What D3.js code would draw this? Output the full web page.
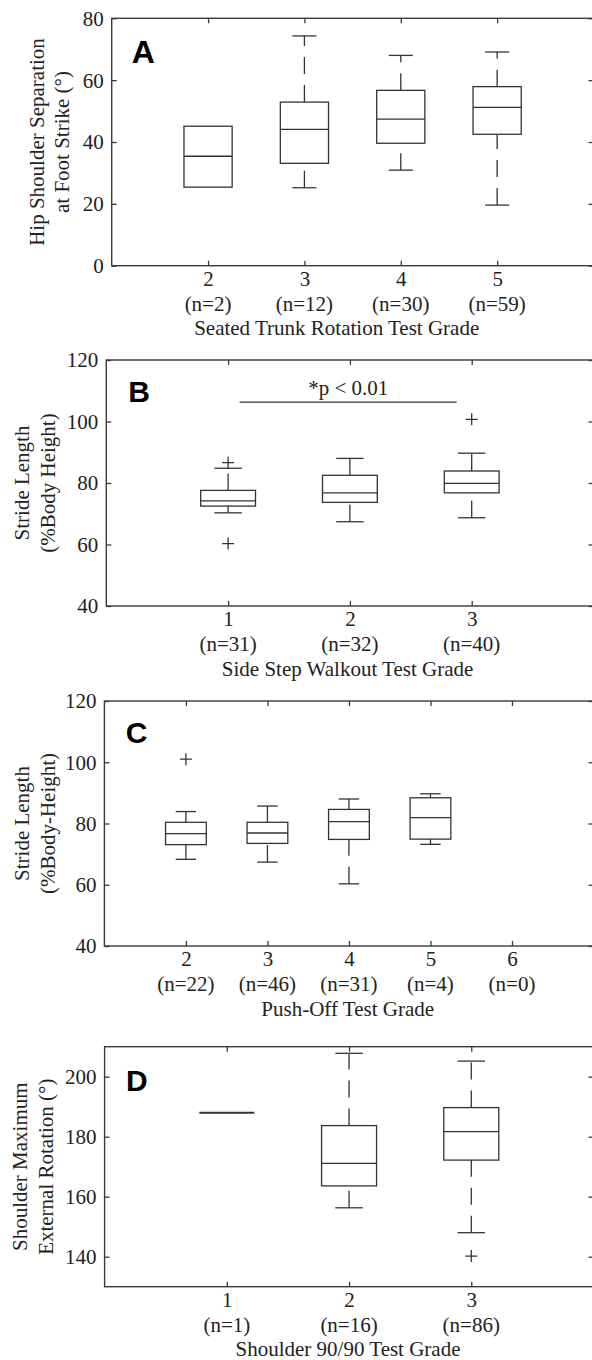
<!DOCTYPE html>
<html>
<head>
<meta charset="utf-8">
<script src="https://cdn.jsdelivr.net/npm/d3@7"></script>
<style>
  body { margin: 0; background: #fff; }
  svg { display: block; }
  .tick text { font-family: "Liberation Serif", "Times New Roman", serif; font-size: 21px; fill: #222; }
  .tick line { stroke: #3a3a3a; stroke-width: 1.3; }
</style>
</head>
<body>
<svg id="fig" width="592" height="1360"></svg>
<script>
// Panel A - Seated trunk rotation
const gradesA = [2, 3, 4, 5];
const countsA = [2, 12, 30, 59];
// [lower whisker, q1, median, q3, upper whisker]
const statsA = [
    [25.4, 25.4, 35.4, 45.1, 45.1],
    [25.2, 33.1, 44.1, 52.9, 74.3],
    [30.9, 39.6, 47.4, 56.7, 68.0],
    [19.6, 42.5, 51.2, 57.9, 69.1]
];
const outliersA = [[], [], [], []];
const yTicksA = [0, 20, 40, 60, 80];

// Panel B - Side step walkout
const gradesB = [1, 2, 3];
const countsB = [31, 32, 40];
const statsB = [
    [70.3, 72.5, 74.2, 77.6, 84.8],
    [67.4, 73.7, 76.8, 82.5, 88.0],
    [68.7, 76.8, 79.9, 83.9, 89.7]
];
const outliersB = [[86.6, 60.3], [], [100.7]];
const yTicksB = [40, 60, 80, 100, 120];
const sigB = {from: 1.095, to: 2.877, level: 106.3, label: "*p < 0.01"};

// Panel C - Push-off
const gradesC = [2, 3, 4, 5, 6];
const countsC = [22, 46, 31, 4, 0];
const statsC = [
    [68.3, 73.1, 76.7, 80.4, 83.9],
    [67.4, 73.5, 76.9, 80.4, 85.7],
    [60.3, 74.8, 80.6, 84.6, 88.0],
    [73.2, 74.9, 81.9, 88.4, 89.7],
    null
];
const outliersC = [[101.0], [], [], [], []];
const yTicksC = [40, 60, 80, 100, 120];

// Panel D - Shoulder 90/90
const gradesD = [1, 2, 3];
const countsD = [1, 16, 86];
const statsD = [
    [188.0, 188.0, 188.0, 188.0, 188.0],
    [156.3, 163.6, 171.1, 183.7, 207.8],
    [148.0, 172.2, 181.7, 189.7, 205.2]
];
const outliersD = [[], [], [140.2]];
const yTicksD = [140, 160, 180, 200];

// layout of the four panels
const RIGHT = 593.5;
const panels = [
    {letter: "A", grades: gradesA, counts: countsA, stats: statsA, outliers: outliersA,
     xDomain: [1, 6], yDomain: [0, 80], yTicks: yTicksA, left: 111.7, top: 18.3, bottom: 265.7,
     boxW: 0.5, ylabel: ["Hip Shoulder Separation", "at Foot Strike (\u00b0)"], ylabelX: [44, 69],
     xlabel: "Seated Trunk Rotation Test Grade", xlabelX: 336.7, letterXY: [131.7, 63.3], letterSize: 32},
    {letter: "B", grades: gradesB, counts: countsB, stats: statsB, outliers: outliersB, sig: sigB,
     xDomain: [0, 4], yDomain: [40, 120], yTicks: yTicksB, left: 106.3, top: 360, bottom: 606,
     boxW: 0.45, ylabel: ["Stride Length", "(%Body Height)"], ylabelX: [29, 55],
     xlabel: "Side Step Walkout Test Grade", xlabelX: 347.6, letterXY: [128.3, 401.7], letterSize: 30},
    {letter: "C", grades: gradesC, counts: countsC, stats: statsC, outliers: outliersC,
     xDomain: [1, 7], yDomain: [40, 120], yTicks: yTicksC, left: 104.4, top: 701, bottom: 946,
     boxW: 0.5, ylabel: ["Stride Length", "(%Body-Height)"], ylabelX: [29, 55],
     xlabel: "Push-Off Test Grade", xlabelX: 347.7, letterXY: [125.7, 743.3], letterSize: 30},
    {letter: "D", grades: gradesD, counts: countsD, stats: statsD, outliers: outliersD,
     xDomain: [0, 4], yDomain: [130, 210], yTicks: yTicksD, left: 104.6, top: 1046.7, bottom: 1286.7,
     boxW: 0.45, ylabel: ["Shoulder Maximum", "External Rotation (\u00b0)"], ylabelX: [27, 53],
     xlabel: "Shoulder 90/90 Test Grade", xlabelX: 348, letterXY: [126, 1090.7], letterSize: 30}
];

const svg = d3.select("#fig");
const SERIF = '"Liberation Serif", "Times New Roman", serif';
const LINE = "#333";

panels.forEach(drawPanel);

function drawPanel(p) {
    let x = d3.scaleLinear().domain(p.xDomain).range([p.left, RIGHT]);
    let y = d3.scaleLinear().domain(p.yDomain).range([p.bottom, p.top]);
    let g = svg.append("g");

    // axes (ticks pointing inwards, like matlab)
    g.append("g").attr("transform", `translate(${p.left},0)`)
        .call(d3.axisLeft(y).tickValues(p.yTicks).tickSize(-5).tickSizeOuter(0).tickPadding(8))
        .call(a => a.select(".domain").remove())
        .selectAll("text").attr("dy", "0.33em");
    g.append("g").attr("transform", `translate(${RIGHT},0)`)
        .call(d3.axisRight(y).tickValues(p.yTicks).tickSize(-5).tickSizeOuter(0).tickFormat(""))
        .call(a => a.select(".domain").remove());
    g.append("g").attr("transform", `translate(0,${p.bottom})`)
        .call(d3.axisBottom(x).tickValues(p.grades).tickSize(-5).tickSizeOuter(0).tickPadding(5).tickFormat(d3.format("d")))
        .call(a => a.select(".domain").remove());
    g.append("g").attr("transform", `translate(0,${p.top})`)
        .call(d3.axisTop(x).tickValues(p.grades).tickSize(-5).tickSizeOuter(0).tickFormat(""))
        .call(a => a.select(".domain").remove());

    // frame
    g.append("rect")
        .attr("x", p.left).attr("y", p.top)
        .attr("width", RIGHT - p.left).attr("height", p.bottom - p.top)
        .attr("fill", "none").attr("stroke", "#3a3a3a").attr("stroke-width", 1.4);

    // group sizes under the grade
    g.selectAll(".count").data(p.counts).enter().append("text")
        .attr("x", (d, i) => x(p.grades[i]))
        .attr("y", p.bottom + 45)
        .attr("text-anchor", "middle")
        .style("font-family", SERIF).style("font-size", "21px").style("fill", "#222")
        .text(d => `(n=${d})`);

    // x label
    g.append("text")
        .attr("x", p.xlabelX).attr("y", p.bottom + 69.5)
        .attr("text-anchor", "middle")
        .style("font-family", SERIF).style("font-size", "21px").style("fill", "#222")
        .text(p.xlabel);

    // y label (two lines)
    let cy = (p.top + p.bottom) / 2;
    p.ylabel.forEach((t, i) => {
        g.append("text")
            .attr("transform", `translate(${p.ylabelX[i]},${cy}) rotate(-90)`)
            .attr("text-anchor", "middle")
            .style("font-family", SERIF).style("font-size", "21px").style("fill", "#222")
            .text(t);
    });

    // boxes
    let half = (x(p.xDomain[0] + p.boxW) - x(p.xDomain[0])) / 2;
    let boxes = g.selectAll(".box")
        .data(p.stats.map((s, i) => ({s: s, grade: p.grades[i], out: p.outliers[i]})).filter(d => d.s))
        .enter().append("g").attr("class", "box");

    boxes.each(function(d) {
        let b = d3.select(this);
        let cx = x(d.grade);
        let [lo, q1, med, q3, hi] = d.s;
        // a collapsed box (single subject) piles all its lines up, so it looks heavier
        let w = q3 > q1 ? 1.3 : 2.1;
        let stroke = s => s.attr("stroke", LINE).attr("stroke-width", w).attr("fill", "none");

        // whiskers are drawn from the lower value up, so the dash pattern starts there
        if (q1 > lo) {
            b.append("line").attr("x1", cx).attr("x2", cx).attr("y1", y(lo)).attr("y2", y(q1))
                .call(stroke).attr("stroke-dasharray", "17,11");
        }
        if (hi > q3) {
            b.append("line").attr("x1", cx).attr("x2", cx).attr("y1", y(q3)).attr("y2", y(hi))
                .call(stroke).attr("stroke-dasharray", "17,11");
        }
        [lo, hi].forEach(v => {
            if (v === q1 || v === q3) return;
            b.append("line").attr("x1", cx - half / 2).attr("x2", cx + half / 2)
                .attr("y1", y(v)).attr("y2", y(v)).call(stroke);
        });
        if (q3 > q1) {
            b.append("rect").attr("x", cx - half).attr("width", half * 2)
                .attr("y", y(q3)).attr("height", y(q1) - y(q3)).call(stroke);
        }
        b.append("line").attr("x1", cx - half).attr("x2", cx + half)
            .attr("y1", y(med)).attr("y2", y(med)).call(stroke);

        // outliers as plus signs
        d.out.forEach(v => {
            b.append("path")
                .attr("d", `M${cx - 6},${y(v)}H${cx + 6}M${cx},${y(v) - 6}V${y(v) + 6}`)
                .call(stroke);
        });
    });

    // significance bar
    if (p.sig) {
        g.append("line")
            .attr("x1", x(p.sig.from)).attr("x2", x(p.sig.to))
            .attr("y1", y(p.sig.level)).attr("y2", y(p.sig.level))
            .attr("stroke", LINE).attr("stroke-width", 1.3);
        g.append("text")
            .attr("x", x((p.sig.from + p.sig.to) / 2)).attr("y", y(p.sig.level) - 7)
            .attr("text-anchor", "middle")
            .style("font-family", SERIF).style("font-size", "21px").style("fill", "#222")
            .text(p.sig.label);
    }

    // panel letter
    g.append("text")
        .attr("x", p.letterXY[0]).attr("y", p.letterXY[1])
        .style("font-family", '"Liberation Sans", Arial, sans-serif')
        .style("font-weight", "bold").style("font-size", p.letterSize + "px").style("fill", "#000")
        .text(p.letter);
}
</script>
</body>
</html>
